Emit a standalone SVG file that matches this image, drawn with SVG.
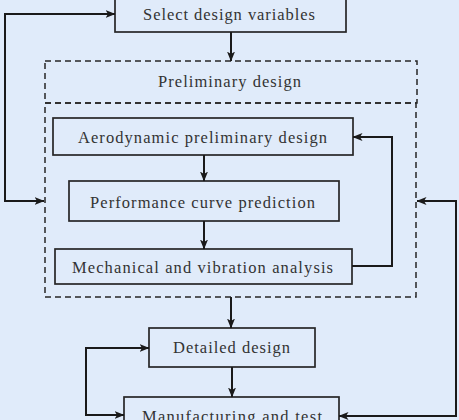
<svg xmlns="http://www.w3.org/2000/svg" width="459" height="420" viewBox="0 0 459 420">
  <defs>
    <marker id="arr" viewBox="0 0 10 8" refX="9.5" refY="4" markerWidth="10" markerHeight="8" markerUnits="userSpaceOnUse" orient="auto-start-reverse">
      <path d="M0,0 L10,4 L0,8 L2.5,4 Z" fill="#1a1a1a"/>
    </marker>
    <style>
      .box { fill: none; stroke: #262626; stroke-width: 1.7; }
      .dash { fill: none; stroke: #262626; stroke-width: 1.5; stroke-dasharray: 6 4; }
      .conn { fill: none; stroke: #1a1a1a; stroke-width: 2; marker-end: url(#arr); }
      .both { marker-start: url(#arr); }
      .lbl { font-family: "Liberation Serif", "DejaVu Serif", serif; font-size: 16.5px; fill: #333; text-anchor: middle; }
    </style>
  </defs>
  <rect width="459" height="420" fill="#e0ebfa"/>

  <g id="select">
    <rect class="box" x="115" y="-5" width="231" height="37"/>
    <text class="lbl" x="229" y="19.5" textLength="172" lengthAdjust="spacing">Select design variables</text>
  </g>

  <g id="preliminary">
    <rect class="dash" x="45" y="61" width="372" height="42"/>
    <rect class="dash" x="45" y="103" width="371" height="194"/>
    <text class="lbl" x="229.5" y="87" textLength="143" lengthAdjust="spacing">Preliminary design</text>
  </g>

  <g id="aero">
    <rect class="box" x="53" y="118" width="300" height="37"/>
    <text class="lbl" x="202.5" y="142.5" textLength="249" lengthAdjust="spacing">Aerodynamic preliminary design</text>
  </g>

  <g id="performance">
    <rect class="box" x="69" y="181" width="270" height="40"/>
    <text class="lbl" x="202.5" y="207.5" textLength="225" lengthAdjust="spacing">Performance curve prediction</text>
  </g>

  <g id="mechanical">
    <rect class="box" x="55" y="249" width="297" height="35"/>
    <text class="lbl" x="202.5" y="272.5" textLength="261" lengthAdjust="spacing">Mechanical and vibration analysis</text>
  </g>

  <g id="detailed">
    <rect class="box" x="149" y="328" width="166" height="39"/>
    <text class="lbl" x="231.5" y="352.5" textLength="117" lengthAdjust="spacing">Detailed design</text>
  </g>

  <g id="manufacturing">
    <rect class="box" x="124" y="397" width="215" height="40"/>
    <text class="lbl" x="232" y="422" textLength="180" lengthAdjust="spacing">Manufacturing and test</text>
  </g>

  <g id="connectors">
    <path class="conn" d="M231,32 V61"/>
    <path class="conn" d="M204,155 V181"/>
    <path class="conn" d="M204,221 V249"/>
    <path class="conn" d="M352,266 H392 V137 H353"/>
    <path class="conn both" d="M44,201 H5 V14 H115"/>
    <path class="conn both" d="M417,201 H456 V416 H339"/>
    <path class="conn" d="M231,297 V328"/>
    <path class="conn" d="M232,367 V397"/>
    <path class="conn both" d="M149,348 H86 V415 H124"/>
  </g>
</svg>
